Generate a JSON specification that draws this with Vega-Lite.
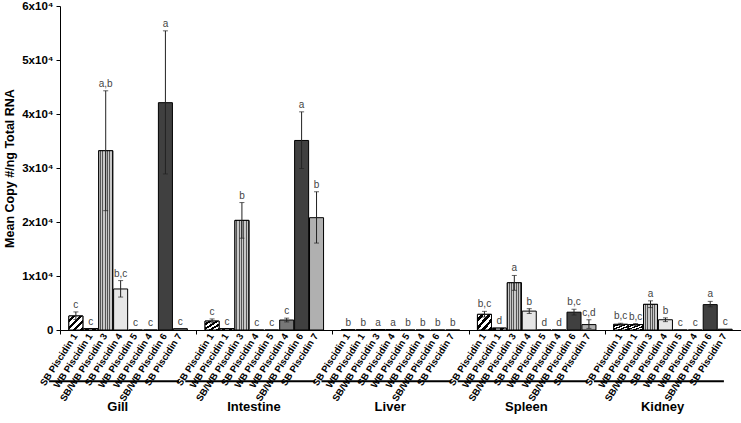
{
  "$schema": "https://vega.github.io/schema/vega-lite/v6.json",
  "width": 681,
  "height": 324,
  "autosize": {"type": "none"},
  "padding": {"left": 60, "top": 6, "right": 0, "bottom": 93},
  "config": {"view": {"stroke": null}, "font": "Liberation Sans", "axis": {"domainColor": "#000", "tickColor": "#000", "labelColor": "#000", "titleColor": "#000", "grid": false}},
  "data": {"values": [
    {"tissue": "Gill", "gene": "SB Piscidin 1", "mean": 2600, "lo": 1950, "hi": 3350, "letter": "c"},
    {"tissue": "Gill", "gene": "WB Piscidin 1", "mean": 250, "lo": null, "hi": null, "letter": "c"},
    {"tissue": "Gill", "gene": "SB/WB Piscidin 3", "mean": 33200, "lo": 22100, "hi": 44300, "letter": "a,b"},
    {"tissue": "Gill", "gene": "SB Piscidin 4", "mean": 7600, "lo": 6100, "hi": 9150, "letter": "b,c"},
    {"tissue": "Gill", "gene": "WB Piscidin 5", "mean": 0, "lo": null, "hi": null, "letter": "c"},
    {"tissue": "Gill", "gene": "WB Piscidin 4", "mean": 0, "lo": null, "hi": null, "letter": "c"},
    {"tissue": "Gill", "gene": "SB/WB Piscidin 6", "mean": 42100, "lo": 28900, "hi": 55400, "letter": "a"},
    {"tissue": "Gill", "gene": "SB Piscidin 7", "mean": 250, "lo": null, "hi": null, "letter": "c"},
    {"tissue": "Intestine", "gene": "SB Piscidin 1", "mean": 1650, "lo": 1300, "hi": 2050, "letter": "c"},
    {"tissue": "Intestine", "gene": "WB Piscidin 1", "mean": 250, "lo": null, "hi": null, "letter": "c"},
    {"tissue": "Intestine", "gene": "SB/WB Piscidin 3", "mean": 20300, "lo": 17000, "hi": 23600, "letter": "b"},
    {"tissue": "Intestine", "gene": "SB Piscidin 4", "mean": 0, "lo": null, "hi": null, "letter": "c"},
    {"tissue": "Intestine", "gene": "WB Piscidin 5", "mean": 0, "lo": null, "hi": null, "letter": "c"},
    {"tissue": "Intestine", "gene": "WB Piscidin 4", "mean": 1850, "lo": 1500, "hi": 2200, "letter": "c"},
    {"tissue": "Intestine", "gene": "SB/WB Piscidin 6", "mean": 35100, "lo": 29900, "hi": 40400, "letter": "a"},
    {"tissue": "Intestine", "gene": "SB Piscidin 7", "mean": 20800, "lo": 16100, "hi": 25600, "letter": "b"},
    {"tissue": "Liver", "gene": "SB Piscidin 1", "mean": 0, "lo": null, "hi": null, "letter": "b"},
    {"tissue": "Liver", "gene": "WB Piscidin 1", "mean": 0, "lo": null, "hi": null, "letter": "b"},
    {"tissue": "Liver", "gene": "SB/WB Piscidin 3", "mean": 80, "lo": null, "hi": null, "letter": "a"},
    {"tissue": "Liver", "gene": "SB Piscidin 4", "mean": 80, "lo": null, "hi": null, "letter": "a"},
    {"tissue": "Liver", "gene": "WB Piscidin 5", "mean": 0, "lo": null, "hi": null, "letter": "b"},
    {"tissue": "Liver", "gene": "WB Piscidin 4", "mean": 0, "lo": null, "hi": null, "letter": "b"},
    {"tissue": "Liver", "gene": "SB/WB Piscidin 6", "mean": 0, "lo": null, "hi": null, "letter": "b"},
    {"tissue": "Liver", "gene": "SB Piscidin 7", "mean": 0, "lo": null, "hi": null, "letter": "b"},
    {"tissue": "Spleen", "gene": "SB Piscidin 1", "mean": 2900, "lo": 2400, "hi": 3450, "letter": "b,c"},
    {"tissue": "Spleen", "gene": "WB Piscidin 1", "mean": 350, "lo": null, "hi": null, "letter": "d"},
    {"tissue": "Spleen", "gene": "SB/WB Piscidin 3", "mean": 8750, "lo": 7350, "hi": 10100, "letter": "a"},
    {"tissue": "Spleen", "gene": "SB Piscidin 4", "mean": 3500, "lo": 3050, "hi": 3950, "letter": "b"},
    {"tissue": "Spleen", "gene": "WB Piscidin 5", "mean": 0, "lo": null, "hi": null, "letter": "d"},
    {"tissue": "Spleen", "gene": "WB Piscidin 4", "mean": 0, "lo": null, "hi": null, "letter": "d"},
    {"tissue": "Spleen", "gene": "SB/WB Piscidin 6", "mean": 3300, "lo": 2780, "hi": 3830, "letter": "b,c"},
    {"tissue": "Spleen", "gene": "SB Piscidin 7", "mean": 1000, "lo": 300, "hi": 1900, "letter": "c,d"},
    {"tissue": "Kidney", "gene": "SB Piscidin 1", "mean": 1050, "lo": 850, "hi": 1250, "letter": "b,c"},
    {"tissue": "Kidney", "gene": "WB Piscidin 1", "mean": 1000, "lo": 800, "hi": 1200, "letter": "b,c"},
    {"tissue": "Kidney", "gene": "SB/WB Piscidin 3", "mean": 4750, "lo": 4150, "hi": 5400, "letter": "a"},
    {"tissue": "Kidney", "gene": "SB Piscidin 4", "mean": 1900, "lo": 1550, "hi": 2250, "letter": "b"},
    {"tissue": "Kidney", "gene": "WB Piscidin 5", "mean": 0, "lo": null, "hi": null, "letter": "c"},
    {"tissue": "Kidney", "gene": "WB Piscidin 4", "mean": 0, "lo": null, "hi": null, "letter": "c"},
    {"tissue": "Kidney", "gene": "SB/WB Piscidin 6", "mean": 4700, "lo": 4300, "hi": 5300, "letter": "a"},
    {"tissue": "Kidney", "gene": "SB Piscidin 7", "mean": 150, "lo": null, "hi": null, "letter": "c"}
  ]},
  "encoding": {
    "x": {"field": "tissue", "type": "nominal", "sort": ["Gill", "Intestine", "Liver", "Spleen", "Kidney"],
      "scale": {"paddingInner": 0.13, "paddingOuter": 0.065},
      "axis": {"title": null, "labelAngle": 0, "labelAlign": "center", "labelFlush": false, "labelBound": false, "labelFontSize": 13, "labelFontWeight": "bold", "labelPadding": 66, "tickSize": 4, "bandPosition": 0, "tickOffset": -8.85, "labelOffset": -2}}
  },
  "layer": [
    {
      "mark": {"type": "bar", "stroke": "#000", "strokeWidth": 1},
      "encoding": {
        "xOffset": {"field": "gene", "type": "nominal", "sort": ["SB Piscidin 1", "WB Piscidin 1", "SB/WB Piscidin 3", "SB Piscidin 4", "WB Piscidin 5", "WB Piscidin 4", "SB/WB Piscidin 6", "SB Piscidin 7"], "scale": {"paddingInner": 0.06, "paddingOuter": 0}},
        "y": {"field": "mean", "type": "quantitative", "scale": {"domain": [0, 60000], "nice": false},
          "axis": {"values": [0, 10000, 20000, 30000, 40000, 50000, 60000], "labelExpr": "datum.value == 0 ? '0' : format(datum.value / 10000, 'd') + 'x10⁴'", "labelFontSize": 11.5, "labelFontWeight": "bold", "tickSize": 4, "labelPadding": 3, "title": "Mean Copy #/ng Total RNA", "titleFontSize": 12.5, "titleFontWeight": "bold", "titlePadding": 5}},
        "color": {"field": "gene", "type": "nominal", "legend": null,
          "scale": {"domain": ["SB Piscidin 1", "WB Piscidin 1", "SB/WB Piscidin 3", "SB Piscidin 4", "WB Piscidin 5", "WB Piscidin 4", "SB/WB Piscidin 6", "SB Piscidin 7"],
            "range": ["#ffffff", "#222222", "#aaaaaa", "#e6e6e6", "#ffffff", "#777777", "#404040", "#b0b0b0"]}}
      }
    },
    {
      "transform": [{"filter": "datum.gene == 'SB Piscidin 1' || datum.gene == 'WB Piscidin 1'"}],
      "mark": {"type": "bar", "stroke": "#000", "strokeWidth": 1,
        "fill": {"gradient": "linear", "x1": 0, "y1": 0, "x2": 1, "y2": 1, "stops": [
          {"offset": 0, "color": "#fff"}, {"offset": 0.125, "color": "#fff"}, {"offset": 0.125, "color": "#000"}, {"offset": 0.25, "color": "#000"},
          {"offset": 0.25, "color": "#fff"}, {"offset": 0.375, "color": "#fff"}, {"offset": 0.375, "color": "#000"}, {"offset": 0.5, "color": "#000"},
          {"offset": 0.5, "color": "#fff"}, {"offset": 0.625, "color": "#fff"}, {"offset": 0.625, "color": "#000"}, {"offset": 0.75, "color": "#000"},
          {"offset": 0.75, "color": "#fff"}, {"offset": 0.875, "color": "#fff"}, {"offset": 0.875, "color": "#000"}, {"offset": 1, "color": "#000"}]}},
      "encoding": {
        "xOffset": {"field": "gene", "type": "nominal", "sort": ["SB Piscidin 1", "WB Piscidin 1", "SB/WB Piscidin 3", "SB Piscidin 4", "WB Piscidin 5", "WB Piscidin 4", "SB/WB Piscidin 6", "SB Piscidin 7"]},
        "y": {"field": "mean", "type": "quantitative"}
      }
    },
    {
      "transform": [{"filter": "datum.gene == 'SB/WB Piscidin 3'"}],
      "mark": {"type": "bar", "stroke": "#000", "strokeWidth": 1,
        "fill": {"gradient": "linear", "x1": 0, "y1": 0, "x2": 1, "y2": 0, "stops": [
          {"offset": 0, "color": "#c8c8c8"}, {"offset": 0.1, "color": "#c8c8c8"}, {"offset": 0.1, "color": "#555"}, {"offset": 0.167, "color": "#555"},
          {"offset": 0.167, "color": "#c8c8c8"}, {"offset": 0.267, "color": "#c8c8c8"}, {"offset": 0.267, "color": "#555"}, {"offset": 0.333, "color": "#555"},
          {"offset": 0.333, "color": "#c8c8c8"}, {"offset": 0.433, "color": "#c8c8c8"}, {"offset": 0.433, "color": "#555"}, {"offset": 0.5, "color": "#555"},
          {"offset": 0.5, "color": "#c8c8c8"}, {"offset": 0.6, "color": "#c8c8c8"}, {"offset": 0.6, "color": "#555"}, {"offset": 0.667, "color": "#555"},
          {"offset": 0.667, "color": "#c8c8c8"}, {"offset": 0.767, "color": "#c8c8c8"}, {"offset": 0.767, "color": "#555"}, {"offset": 0.833, "color": "#555"},
          {"offset": 0.833, "color": "#c8c8c8"}, {"offset": 0.933, "color": "#c8c8c8"}, {"offset": 0.933, "color": "#555"}, {"offset": 1, "color": "#555"}]}},
      "encoding": {
        "xOffset": {"field": "gene", "type": "nominal", "sort": ["SB Piscidin 1", "WB Piscidin 1", "SB/WB Piscidin 3", "SB Piscidin 4", "WB Piscidin 5", "WB Piscidin 4", "SB/WB Piscidin 6", "SB Piscidin 7"]},
        "y": {"field": "mean", "type": "quantitative"}
      }
    },
    {
      "transform": [{"filter": "datum.hi != null"}],
      "mark": {"type": "rule", "color": "#222", "strokeWidth": 1},
      "encoding": {
        "xOffset": {"field": "gene", "type": "nominal", "sort": ["SB Piscidin 1", "WB Piscidin 1", "SB/WB Piscidin 3", "SB Piscidin 4", "WB Piscidin 5", "WB Piscidin 4", "SB/WB Piscidin 6", "SB Piscidin 7"]},
        "y": {"field": "lo", "type": "quantitative"},
        "y2": {"field": "hi"}
      }
    },
    {
      "transform": [{"filter": "datum.hi != null"}],
      "mark": {"type": "tick", "color": "#222", "size": 5, "thickness": 1, "orient": "horizontal"},
      "encoding": {
        "xOffset": {"field": "gene", "type": "nominal", "sort": ["SB Piscidin 1", "WB Piscidin 1", "SB/WB Piscidin 3", "SB Piscidin 4", "WB Piscidin 5", "WB Piscidin 4", "SB/WB Piscidin 6", "SB Piscidin 7"]},
        "y": {"field": "hi", "type": "quantitative"}
      }
    },
    {
      "transform": [{"filter": "datum.hi != null"}],
      "mark": {"type": "tick", "color": "#222", "size": 5, "thickness": 1, "orient": "horizontal"},
      "encoding": {
        "xOffset": {"field": "gene", "type": "nominal", "sort": ["SB Piscidin 1", "WB Piscidin 1", "SB/WB Piscidin 3", "SB Piscidin 4", "WB Piscidin 5", "WB Piscidin 4", "SB/WB Piscidin 6", "SB Piscidin 7"]},
        "y": {"field": "lo", "type": "quantitative"}
      }
    },
    {
      "transform": [{"filter": "datum.hi != null"}],
      "mark": {"type": "text", "fontSize": 10, "color": "#444", "baseline": "bottom", "dy": -2},
      "encoding": {
        "xOffset": {"field": "gene", "type": "nominal", "sort": ["SB Piscidin 1", "WB Piscidin 1", "SB/WB Piscidin 3", "SB Piscidin 4", "WB Piscidin 5", "WB Piscidin 4", "SB/WB Piscidin 6", "SB Piscidin 7"]},
        "y": {"field": "hi", "type": "quantitative"},
        "text": {"field": "letter"}
      }
    },
    {
      "transform": [{"filter": "datum.hi == null"}],
      "mark": {"type": "text", "fontSize": 10, "color": "#444", "baseline": "bottom", "dy": -2},
      "encoding": {
        "xOffset": {"field": "gene", "type": "nominal", "sort": ["SB Piscidin 1", "WB Piscidin 1", "SB/WB Piscidin 3", "SB Piscidin 4", "WB Piscidin 5", "WB Piscidin 4", "SB/WB Piscidin 6", "SB Piscidin 7"]},
        "y": {"field": "mean", "type": "quantitative"},
        "text": {"field": "letter"}
      }
    },
    {
      "mark": {"type": "text", "fontSize": 9.5, "fontWeight": "bold", "color": "#000", "angle": -57, "align": "right", "baseline": "middle", "dx": -4, "dy": 2},
      "encoding": {
        "xOffset": {"field": "gene", "type": "nominal", "sort": ["SB Piscidin 1", "WB Piscidin 1", "SB/WB Piscidin 3", "SB Piscidin 4", "WB Piscidin 5", "WB Piscidin 4", "SB/WB Piscidin 6", "SB Piscidin 7"]},
        "y": {"datum": 0, "type": "quantitative"},
        "text": {"field": "gene"}
      }
    },
    {
      "transform": [{"filter": "datum.gene == 'SB Piscidin 1'"}],
      "mark": {"type": "bar", "color": "#000", "width": 130, "xOffset": -14},
      "encoding": {
        "y": {"datum": -9300, "type": "quantitative"},
        "y2": {"datum": -9680}
      }
    }
  ]
}
